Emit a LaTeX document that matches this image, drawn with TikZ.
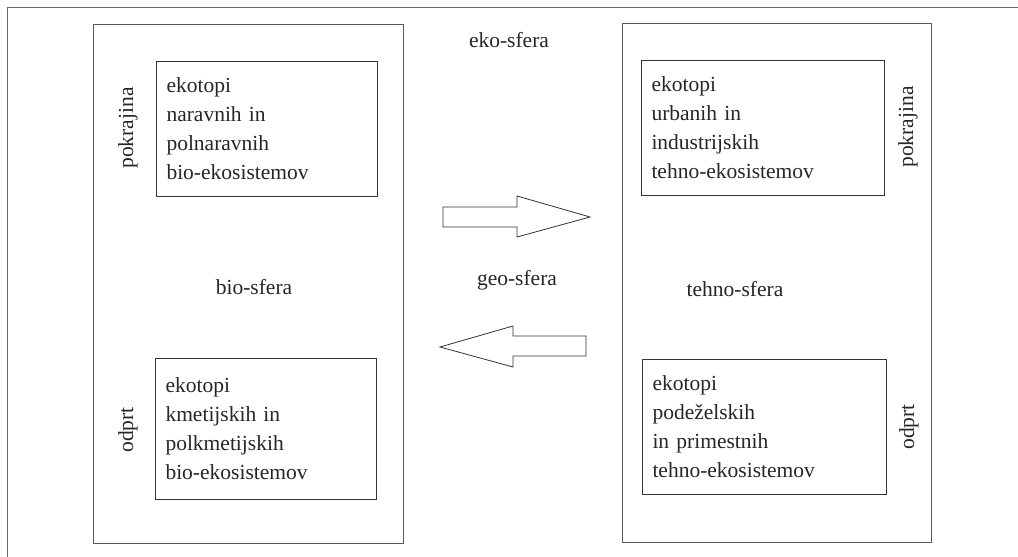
\documentclass[tikz,border=0pt]{standalone}
\usepackage{fontspec}
\setmainfont{Liberation Serif}
\begin{document}
\begin{tikzpicture}[x=1pt,y=-1pt,
  frameline/.style={draw=black!60, line width=1pt},
  sphere/.style={draw=black!65, line width=1pt, anchor=north west, inner sep=0pt},
  eco/.style={draw=black!80, line width=1pt, align=left, text width=201pt, inner xsep=10pt, minimum height=135pt, anchor=north west, font=\fontsize{21.5}{29}\selectfont, text=black!85},
  lbl/.style={font=\fontsize{21.5}{24}\selectfont, text=black!85, inner sep=0pt},
  bigarrow/.style={draw=black!80, line width=0.8pt, fill=white, line join=miter}]
\useasboundingbox (0,0) rectangle (1018,557);
% outer frame
\coordinate (ftr) at (1018,7);
\coordinate (ftl) at (7,7);
\coordinate (fbl) at (7,557);
\draw[frameline] (ftr) -- (ftl) -- (fbl);
% spheres
\node[sphere, minimum width=310pt, minimum height=519pt] (bio) at (93,24) {};
\node[sphere, minimum width=309pt, minimum height=519pt] (tehno) at (622,23) {};
% eco boxes
\node[eco] (e1) at (156,61) {ekotopi\\naravnih in\\polnaravnih\\bio-ekosistemov};
\node[eco, minimum height=141pt] (e2) at (155,358) {ekotopi\\kmetijskih in\\polkmetijskih\\bio-ekosistemov};
\node[eco, text width=223pt] (e3) at (641,60) {ekotopi\\urbanih in\\industrijskih\\tehno-ekosistemov};
\node[eco, text width=224pt] (e4) at (642,359) {ekotopi\\podeželskih\\in primestnih\\tehno-ekosistemov};
% side labels
\node[lbl, rotate=90] (p1) at (128,128) {pokrajina};
\node[lbl, rotate=90] (o1) at (128,430) {odprt};
\node[lbl, rotate=90] (p2) at (908,127) {pokrajina};
\node[lbl, rotate=90] (o2) at (909,427) {odprt};
% sphere labels
\node[lbl] (eko) at (509,40) {eko-sfera};
\node[lbl] (biol) at (254,287) {bio-sfera};
\node[lbl] (geo) at (517,280) {geo-sfera};
\node[lbl] (tehl) at (735,289) {tehno-sfera};
% arrows
\draw[bigarrow] (443,207) -- (517,207) -- (517,196) -- (590,217) -- (517,237) -- (517,227) -- (443,227) -- cycle;
\draw[bigarrow] (586,336) -- (513,336) -- (513,326) -- (440,347) -- (513,367) -- (513,356) -- (586,356) -- cycle;
\end{tikzpicture}
\end{document}
